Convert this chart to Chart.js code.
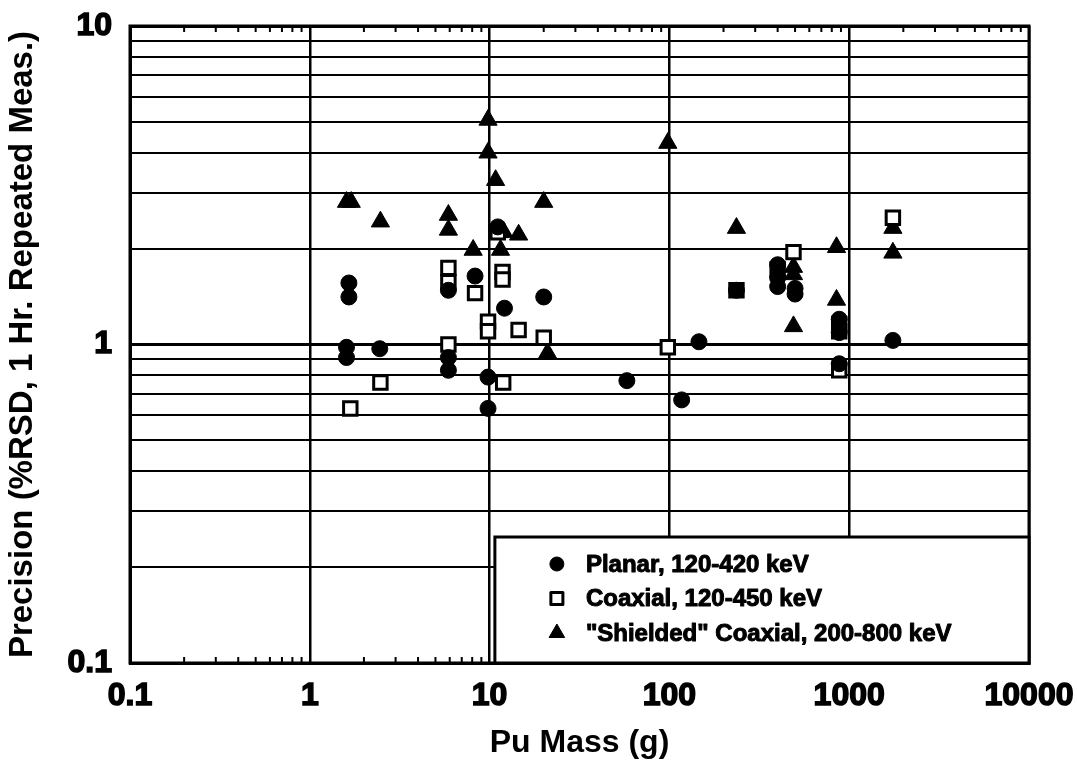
<!DOCTYPE html>
<html>
<head>
<meta charset="utf-8">
<script src="https://cdn.jsdelivr.net/npm/chart.js@4.4.1/dist/chart.umd.min.js"></script>
<style>
  html, body { margin: 0; padding: 0; background: #fff; }
  #wrap { width: 1077px; height: 762px; position: relative; }
</style>
</head>
<body>
<div id="wrap"><canvas id="grafico"></canvas></div>
<script>
// Planar, 120-420 keV (filled circles)
const planarMass = [1.65, 1.65, 1.6, 1.6, 2.45, 5.9, 5.9, 5.9, 8.3, 9.8, 9.8, 11.1, 12.1, 20, 58, 117, 146, 236, 400, 400, 400, 500, 500, 880, 880, 880, 1750];
const planarPrec = [1.56, 1.41, 0.98, 0.91, 0.97, 1.48, 0.91, 0.83, 1.64, 0.79, 0.63, 2.34, 1.30, 1.41, 0.77, 0.67, 1.02, 1.48, 1.78, 1.62, 1.52, 1.50, 1.44, 1.20, 1.09, 0.87, 1.03];

// Coaxial, 120-450 keV (open squares)
const coaxMass = [1.68, 2.47, 5.9, 5.9, 5.9, 8.3, 9.8, 9.8, 11.1, 11.8, 11.8, 11.9, 14.5, 20, 98, 236, 400, 490, 880, 880, 880, 1750];
const coaxPrec = [0.63, 0.76, 1.74, 1.57, 1.00, 1.45, 1.18, 1.10, 2.25, 1.69, 1.60, 0.76, 1.11, 1.05, 0.98, 1.48, 1.72, 1.95, 1.16, 1.10, 0.83, 2.50];

// "Shielded" Coaxial, 200-800 keV (filled triangles)
const shieldMass = [1.6, 1.7, 2.47, 5.9, 5.9, 8.1, 9.8, 9.8, 10.8, 11.5, 12, 14.5, 20, 21, 98, 236, 490, 490, 490, 850, 850, 1750, 1750];
const shieldPrec = [2.80, 2.80, 2.43, 2.55, 2.29, 1.98, 5.07, 4.00, 3.28, 1.98, 2.25, 2.21, 2.80, 0.94, 4.29, 2.32, 1.75, 1.66, 1.14, 2.02, 1.38, 2.32, 1.94];

const seriesLabels = ['Planar, 120-420 keV', 'Coaxial, 120-450 keV', '"Shielded" Coaxial, 200-800 keV'];

const xTicks = [0.1, 1, 10, 100, 1000, 10000];
const yTicks = [0.1, 0.2, 0.3, 0.4, 0.5, 0.6, 0.7, 0.8, 0.9, 1, 2, 3, 4, 5, 6, 7, 8, 9, 10];
const yMajorTicks = [0.1, 1, 10];
const xMinorTicks = [0.2, 0.3, 0.4, 0.5, 0.6, 0.7, 0.8, 0.9, 2, 3, 4, 5, 6, 7, 8, 9,
                     20, 30, 40, 50, 60, 70, 80, 90, 200, 300, 400, 500, 600, 700, 800, 900,
                     2000, 3000, 4000, 5000, 6000, 7000, 8000, 9000];

const FONT = "'Liberation Sans', Arial, sans-serif";

function pares(xs, ys) {
    return xs.map(function (x, i) { return { x: x, y: ys[i] }; });
}

// ticks miudos nas bordas de cima e de baixo + legenda dentro do grafico
const extras = {
    id: 'extras',
    afterDatasetsDraw: function (chart) {
        const ctx = chart.ctx;
        const a = chart.chartArea;
        const xs = chart.scales.x;
        ctx.save();
        ctx.strokeStyle = '#000';
        ctx.lineWidth = 2;
        xMinorTicks.forEach(function (v) {
            const px = xs.getPixelForValue(v);
            ctx.beginPath();
            ctx.moveTo(px, a.top); ctx.lineTo(px, a.top + 6);
            ctx.moveTo(px, a.bottom); ctx.lineTo(px, a.bottom - 6);
            ctx.stroke();
        });
        // borda em volta
        ctx.lineWidth = 3;
        ctx.strokeRect(a.left, a.top, a.right - a.left, a.bottom - a.top);

        // legenda
        const bx = xs.getPixelForValue(10.7), by = a.bottom - 126;
        const bw = a.right - bx, bh = a.bottom - by;
        ctx.fillStyle = '#fff';
        ctx.fillRect(bx, by, bw, bh);
        ctx.lineWidth = 3;
        ctx.strokeRect(bx, by, bw, bh);
        ctx.font = 'bold 24px ' + FONT;
        ctx.textBaseline = 'middle';
        ctx.lineJoin = 'round';
        chart.data.datasets.forEach(function (ds, i) {
            const cy = by + 27 + i * 34.5;
            const opts = {
                pointStyle: ds.pointStyle,
                radius: ds.legendRadius,
                borderWidth: ds.borderWidth,
                rotation: 0
            };
            ctx.fillStyle = ds.backgroundColor;
            ctx.strokeStyle = ds.borderColor;
            ctx.lineWidth = ds.borderWidth;
            Chart.helpers.drawPoint(ctx, opts, bx + 62, cy);
            ctx.fillStyle = '#000';
            ctx.strokeStyle = '#000';
            ctx.lineWidth = 1;
            ctx.fillText(ds.label, bx + 91, cy + 1);
            ctx.strokeText(ds.label, bx + 91, cy + 1);
        });
        ctx.restore();
    }
};

const el = document.getElementById('grafico');
new Chart(el.getContext('2d'), {
    type: 'scatter',
    data: {
        datasets: [{
            label: seriesLabels[0],
            data: pares(planarMass, planarPrec),
            pointStyle: 'circle',
            pointRadius: 8,
            legendRadius: 7,
            backgroundColor: '#000',
            borderColor: '#000',
            borderWidth: 1
        }, {
            label: seriesLabels[1],
            data: pares(coaxMass, coaxPrec),
            pointStyle: 'rect',
            pointRadius: 9.5,
            legendRadius: 8.5,
            backgroundColor: '#fff',
            borderColor: '#000',
            borderWidth: 3
        }, {
            label: seriesLabels[2],
            data: pares(shieldMass, shieldPrec),
            pointStyle: 'triangle',
            pointRadius: 10.5,
            legendRadius: 9,
            backgroundColor: '#000',
            borderColor: '#000',
            borderWidth: 1
        }]
    },
    options: {
        responsive: true,
        maintainAspectRatio: false,
        animation: false,
        layout: {
            padding: { top: 26, bottom: 0, left: 0, right: 48 }
        },
        scales: {
            x: {
                type: 'logarithmic',
                min: 0.1,
                max: 10000,
                afterBuildTicks: function (scale) {
                    scale.ticks = xTicks.map(function (v) { return { value: v }; });
                },
                afterFit: function (scale) { scale.height = 99; },
                grid: {
                    color: '#000',
                    lineWidth: 2.5,
                    drawTicks: true,
                    tickLength: 14,
                    tickColor: 'rgba(0,0,0,0)'
                },
                border: { display: true, color: '#000', width: 3 },
                ticks: {
                    color: '#000',
                    padding: 0,
                    maxRotation: 0,
                    autoSkip: false,
                    textStrokeColor: '#000',
                    textStrokeWidth: 1.5,
                    font: { size: 32, weight: 'bold', family: FONT },
                    callback: function (v) { return String(v); }
                },
                title: {
                    display: true,
                    text: 'Pu Mass (g)',
                    color: '#000',
                    font: { size: 32, weight: 'bold', family: FONT },
                    padding: { top: 0, bottom: 0 }
                }
            },
            y: {
                type: 'logarithmic',
                min: 0.1,
                max: 10,
                afterBuildTicks: function (scale) {
                    scale.ticks = yTicks.map(function (v) { return { value: v }; });
                },
                afterFit: function (scale) { scale.width = 130; },
                grid: {
                    color: '#000',
                    lineWidth: function (c) {
                        return yMajorTicks.indexOf(c.tick.value) >= 0 ? 3 : 2;
                    },
                    drawTicks: true,
                    tickLength: 18,
                    tickColor: 'rgba(0,0,0,0)'
                },
                border: { display: true, color: '#000', width: 3 },
                ticks: {
                    color: '#000',
                    padding: 0,
                    autoSkip: false,
                    textStrokeColor: '#000',
                    textStrokeWidth: 1.5,
                    font: { size: 32, weight: 'bold', family: FONT },
                    callback: function (v) {
                        return yMajorTicks.indexOf(v) >= 0 ? String(v) : '';
                    }
                },
                title: {
                    display: true,
                    text: 'Precision (%RSD, 1 Hr. Repeated Meas.)',
                    color: '#000',
                    font: { size: 33, weight: 'bold', family: FONT },
                    padding: { top: 3, bottom: 0 }
                }
            }
        },
        plugins: {
            legend: { display: false },
            tooltip: { enabled: false }
        }
    },
    plugins: [extras]
});
</script>
</body>
</html>
